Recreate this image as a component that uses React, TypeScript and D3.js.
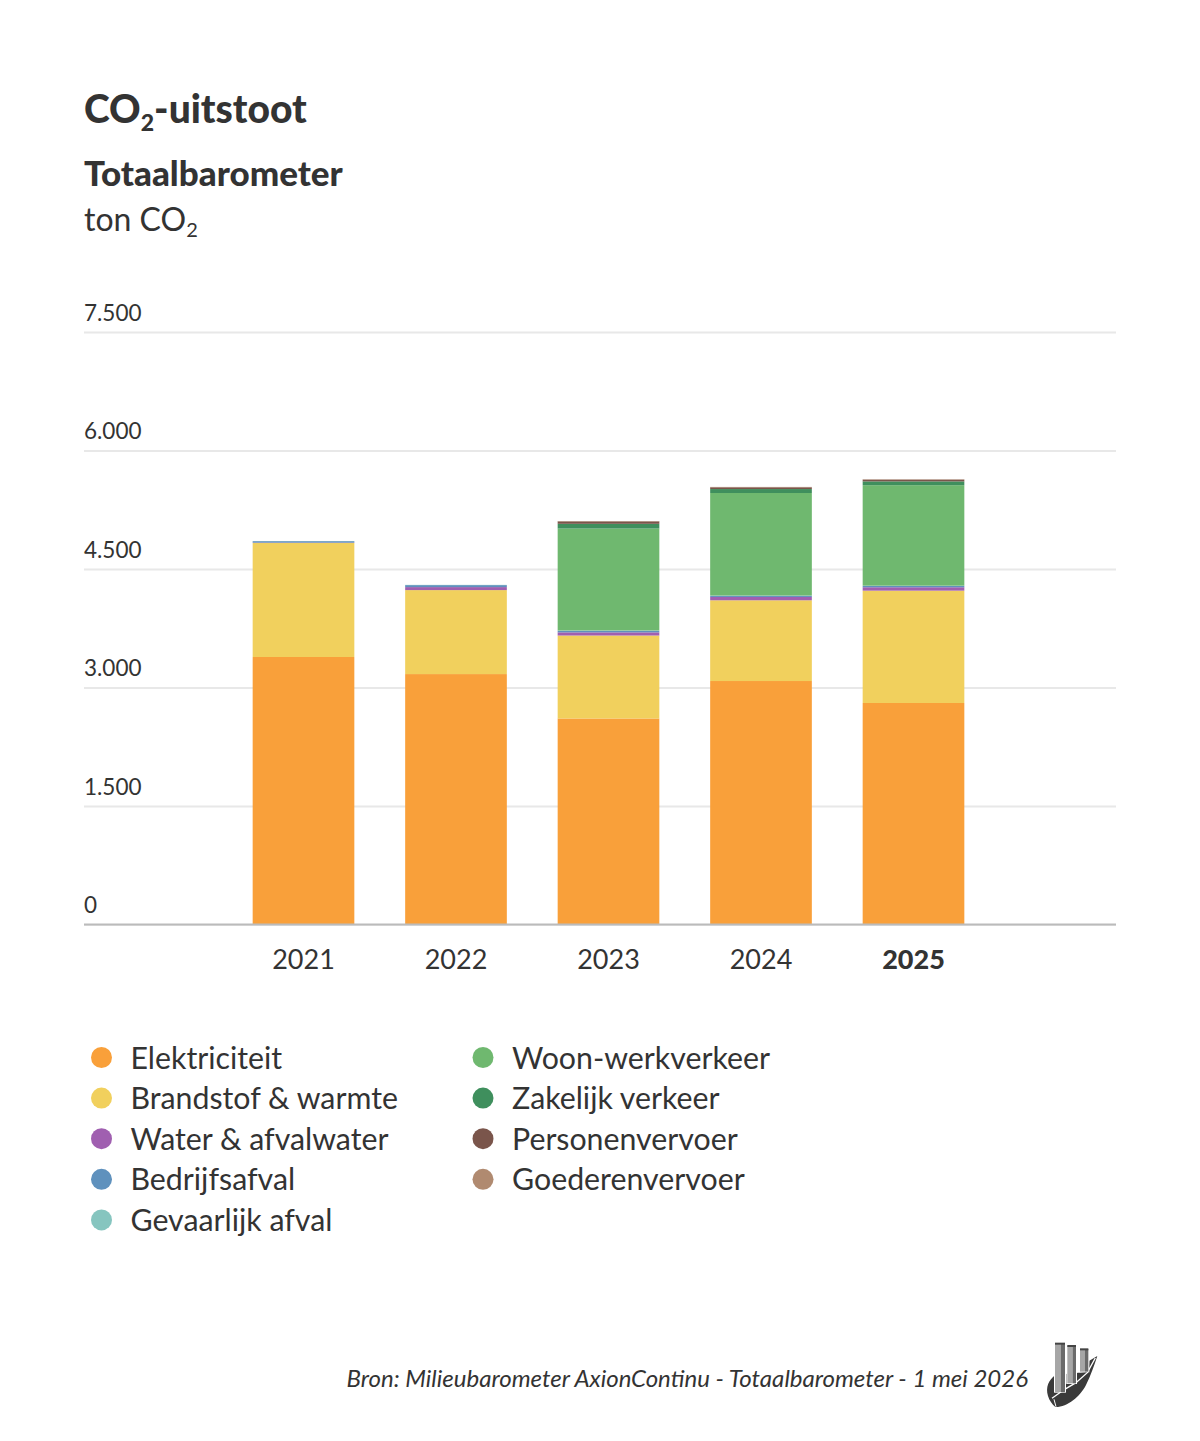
import { useEffect, useRef } from 'react'
import * as d3 from 'd3'

const years = ['2021', '2022', '2023', '2024', '2025']
const seriesNames = [
  'Elektriciteit',
  'Brandstof & warmte',
  'Water & afvalwater',
  'Bedrijfsafval',
  'Gevaarlijk afval',
  'Woon-werkverkeer',
  'Zakelijk verkeer',
  'Personenvervoer',
  'Goederenvervoer',
]
const seriesColors = ['#f9a03a', '#f1d05d', '#a05fb0', '#5f91bd', '#86c5bf', '#6fb86f', '#3f8f5d', '#7a554b', '#b08a70']

const elektriciteit = [3386, 3170, 2608, 3082, 2804]
const brandstof = [1443, 1063, 1050, 1022, 1422]
const water = [5, 38, 40, 42, 43]
const bedrijfsafval = [18, 25, 20, 15, 16]
const gevaarlijk = [2, 3, 4, 3, 4]
const woonWerk = [0, 0, 1290, 1298, 1272]
const zakelijk = [0, 0, 60, 50, 48]
const personen = [0, 0, 30, 22, 22]
const goederen = [0, 0, 5, 5, 5]

const yTicks = [0, 1500, 3000, 4500, 6000, 7500]
const boldYear = '2025'

const FONT = 'Lato, "Open Sans", sans-serif'
const TEXT = '#333333'

export default function App() {
  const svgRef = useRef<SVGSVGElement>(null)

  useEffect(() => {
    if (!svgRef.current) return
    const svg = d3.select(svgRef.current)
    svg.selectAll('*').remove()

    const columns = [elektriciteit, brandstof, water, bedrijfsafval, gevaarlijk, woonWerk, zakelijk, personen, goederen]
    const rows = years.map((year, i) => {
      const row: Record<string, number | string> = { year }
      seriesNames.forEach((name, s) => (row[name] = columns[s][i]))
      return row
    })
    const stacked = d3.stack<any>().keys(seriesNames)(rows)

    const x = d3.scaleBand().domain(years).range([227.25, 989.75]).paddingInner(1 / 3).paddingOuter(1 / 6)
    const y = d3.scaleLinear().domain([0, 7500]).range([924.5, 332])

    const nl = d3.formatLocale({ decimal: ',', thousands: '.', grouping: [3], currency: ['€', ''] })

    // titel
    const title = svg.append('text').attr('x', 84).attr('y', 123).attr('fill', TEXT)
      .style('font-size', '39px').style('font-weight', 900)
    title.append('tspan').text('CO')
    title.append('tspan').attr('dy', 8).style('font-size', '23px').text('2')
    title.append('tspan').attr('dy', -8).text('-uitstoot')

    svg.append('text').attr('x', 84).attr('y', 186).attr('fill', TEXT)
      .style('font-size', '35px').style('font-weight', 900).text('Totaalbarometer')

    const unit = svg.append('text').attr('x', 84).attr('y', 231).attr('fill', TEXT).style('font-size', '32px')
    unit.append('tspan').text('ton CO')
    unit.append('tspan').attr('dy', 6).style('font-size', '20px').text('2')

    // y-as
    const yAxis = svg.append('g').attr('transform', 'translate(84,0)').call(
      d3.axisRight(y).tickValues(yTicks).tickSize(1032).tickFormat(d => nl.format(',')(d as number))
    )
    yAxis.select('.domain').remove()
    yAxis.selectAll('line').attr('stroke', '#e8e8e8').attr('stroke-width', 2)
    yAxis.selectAll('text')
      .attr('x', 0).attr('dy', -12).attr('fill', TEXT)
      .style('font-family', FONT).style('font-size', '22.5px')

    // balken
    svg.append('g').selectAll('g')
      .data(stacked)
      .join('g')
      .attr('fill', (_, i) => seriesColors[i])
      .selectAll('rect')
      .data(d => d)
      .join('rect')
      .attr('x', d => x(d.data.year as string) as number)
      .attr('width', x.bandwidth())
      .attr('y', d => y(d[1]))
      .attr('height', d => y(d[0]) - y(d[1]))

    // x-as
    const xAxis = svg.append('g').attr('transform', 'translate(0,924.5)').call(d3.axisBottom(x).tickSize(0))
    xAxis.select('.domain').remove()
    xAxis.append('line').attr('x1', 84).attr('x2', 1116).attr('stroke', '#bbbbbb').attr('stroke-width', 2)
    xAxis.selectAll('.tick text')
      .attr('y', 0).attr('dy', 44).attr('fill', TEXT)
      .style('font-family', FONT).style('font-size', '27px')
      .style('font-weight', d => (d === boldYear ? 900 : 400))

    // legenda
    const legend = svg.append('g').selectAll('g')
      .data(seriesNames)
      .join('g')
      .attr('transform', (_, i) => {
        const col = i < 5 ? 0 : 1
        const row = i < 5 ? i : i - 5
        return `translate(${col === 0 ? 101.5 : 483},${1057.5 + row * 40.6})`
      })
    legend.append('circle').attr('r', 10.5).attr('fill', (_, i) => seriesColors[i])
    legend.append('text').attr('x', 29).attr('y', 11).attr('fill', TEXT)
      .style('font-size', '30.3px').text(d => d)

    // bron
    svg.append('text').attr('x', 1028).attr('y', 1387).attr('text-anchor', 'end').attr('fill', TEXT)
      .style('font-size', '24px').style('font-style', 'italic')
      .text('Bron: Milieubarometer AxionContinu - Totaalbarometer - 1 mei 2026')

    // logo
    const logo = svg.append('g').attr('transform', 'translate(1030,1330) scale(0.3333)')
    logo.append('path').attr('fill', '#3a3a3a')
      .attr('d', 'M76 135 C56 150 46 172 54 198 C58 212 66 222 76 231 C112 232 150 200 168 165 C182 138 192 108 202 78 L178 92 L176 125 L76 135 Z')
    logo.append('path').attr('fill', 'none').attr('stroke', '#ffffff').attr('stroke-width', 4)
      .attr('d', 'M66 205 L104 178 L138 158 L172 128 L196 84')
    logo.append('path').attr('fill', 'none').attr('stroke', '#ffffff').attr('stroke-width', 3)
      .attr('d', 'M72 208 L78 230')
    const bars = [
      [75, 40, 30, 146],
      [112, 47, 26, 113],
      [150, 57, 25, 68],
    ]
    bars.forEach(([bx, by, bw, bh]) => {
      logo.append('rect').attr('x', bx - 3).attr('y', by - 4).attr('width', bw + 6).attr('height', bh + 6).attr('fill', '#ffffff')
      logo.append('rect').attr('x', bx).attr('y', by).attr('width', bw * 0.6).attr('height', bh).attr('fill', '#a6a6a6')
      logo.append('rect').attr('x', bx + bw * 0.6).attr('y', by).attr('width', bw * 0.4).attr('height', bh).attr('fill', '#6a6a6a')
      logo.append('rect').attr('x', bx).attr('y', by - 2).attr('width', bw).attr('height', 6).attr('fill', '#444444')
    })
  }, [])

  return (
    <svg
      ref={svgRef}
      width={1200}
      height={1441}
      style={{ position: 'absolute', left: 0, top: 0, display: 'block', background: '#fff', fontFamily: FONT }}
    />
  )
}
